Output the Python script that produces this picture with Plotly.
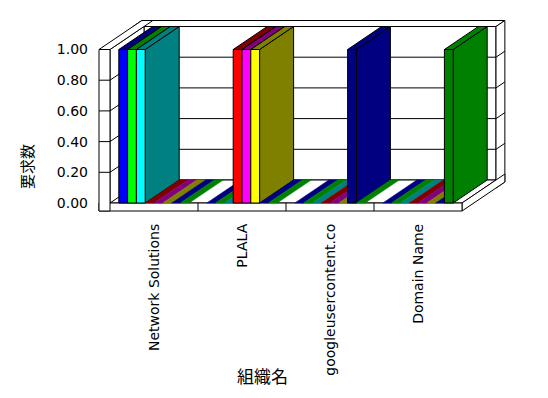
import plotly.graph_objects as go

# ---------------- data ----------------
categories = ["Network Solutions", "PLALA", "googleusercontent.co", "Domain Name"]
series_names = ["S1", "S2", "S3", "S4", "S5", "S6", "S7", "S8"]
s1 = [1, 0, 0, 0]
s2 = [1, 0, 0, 0]
s3 = [1, 0, 0, 0]
s4 = [0, 1, 0, 0]
s5 = [0, 1, 0, 0]
s6 = [0, 1, 0, 0]
s7 = [0, 0, 1, 0]
s8 = [0, 0, 0, 1]
series_values = [s1, s2, s3, s4, s5, s6, s7, s8]
y_ticks = [0.0, 0.2, 0.4, 0.6, 0.8, 1.0]
y_ticktext = ["%.2f" % t for t in y_ticks]

# ---------------- style ----------------
front_colors = ["#0000FF", "#00FF00", "#00FFFF", "#FF0000", "#FF00FF", "#FFFF00", "#000080", "#008000"]
dark_colors = ["#000080", "#008000", "#008080", "#800000", "#800080", "#808000", "#000080", "#008000"]

PX_X = 88.0      # pixels per category
PX_Y = 153.5     # pixels per value unit
DX = 34 / PX_X   # depth offset (x) in data units
DY = 23 / PX_Y   # depth offset (y) in data units
KF = 1 + 6 / 23  # full depth incl. back wall thickness
LW = 11 / PX_X   # left wall thickness
FT = 8 / PX_Y    # floor thickness
GAP = 0.1
BW = 0.1
N = len(categories)
VMAX = y_ticks[-1]

fig = go.Figure()


def P(x, v, k):
    return (x + k * DX, v + k * DY)


def poly(pts, fill, line="black", lw=1):
    xs = [p[0] for p in pts] + [pts[0][0]]
    ys = [p[1] for p in pts] + [pts[0][1]]
    fig.add_trace(go.Scatter(
        x=xs, y=ys, mode="lines", fill="toself", fillcolor=fill,
        line=dict(color=line, width=lw), hoverinfo="skip", showlegend=False))


def seg(a, b, color="black"):
    fig.add_trace(go.Scatter(
        x=[a[0], b[0]], y=[a[1], b[1]], mode="lines",
        line=dict(color=color, width=1), hoverinfo="skip", showlegend=False))


W = "white"
# back wall
poly([P(0, 0, 1), P(N, 0, 1), P(N, VMAX, 1), P(0, VMAX, 1)], W)
poly([P(-LW, VMAX, 1), P(N, VMAX, 1), P(N, VMAX, KF), P(-LW, VMAX, KF)], W)
poly([P(N, -FT, 1), P(N, -FT, KF), P(N, VMAX, KF), P(N, VMAX, 1)], W)
for v in y_ticks[1:-1]:
    seg(P(0, v, 1), P(N, v, 1))
    seg(P(N, v, 1), P(N, v, KF))
# floor
poly([P(-LW, 0, 0), P(N, 0, 0), P(N, 0, 1), P(-LW, 0, 1)], W)
poly([P(N, -FT, 0), P(N, -FT, KF), P(N, 0, KF), P(N, 0, 0)], W)
poly([P(-LW, -FT, 0), P(N, -FT, 0), P(N, 0, 0), P(-LW, 0, 0)], W)
for c in range(1, N):
    seg(P(c, -FT, 0), P(c, 0, 0))
# left wall
poly([P(0, 0, 0), P(0, 0, 1), P(0, VMAX, 1), P(0, VMAX, 0)], W)
poly([P(-LW, VMAX, 0), P(0, VMAX, 0), P(0, VMAX, KF), P(-LW, VMAX, KF)], W)
poly([P(-LW, -FT, 0), P(0, -FT, 0), P(0, VMAX, 0), P(-LW, VMAX, 0)], W)
for v in y_ticks[1:-1]:
    seg(P(-LW, v, 0), P(0, v, 0))
    seg(P(0, v, 0), P(0, v, 1))

# bars, left to right
for c in range(N):
    for s, vals in enumerate(series_values):
        v = vals[c]
        x0 = c + GAP + s * BW
        x1 = x0 + BW
        if v > 0:
            poly([P(x1, 0, 0), P(x1, 0, 1), P(x1, v, 1), P(x1, v, 0)], dark_colors[s])
            poly([P(x0, v, 0), P(x1, v, 0), P(x1, v, 1), P(x0, v, 1)], dark_colors[s])
            poly([P(x0, 0, 0), P(x1, 0, 0), P(x1, v, 0), P(x0, v, 0)], front_colors[s])
        else:
            poly([P(x0, 0, 0), P(x1, 0, 0), P(x1, 0, 1), P(x0, 0, 1)],
                 dark_colors[s], line=dark_colors[s], lw=0.5)

L, R, T, B = 95, 510, 15, 215
X_ORIGIN, Y_ORIGIN = 110, 203
fig.update_layout(
    width=548, height=398,
    margin=dict(l=L, r=548 - R, t=T, b=398 - B),
    paper_bgcolor="white", plot_bgcolor="white",
    showlegend=False,
    font=dict(family="DejaVu Sans", size=14, color="black"),
    xaxis=dict(range=[(L - X_ORIGIN) / PX_X, (R - X_ORIGIN) / PX_X],
               tickvals=[i + 0.5 for i in range(N)], ticktext=categories,
               tickangle=-90, showgrid=False, zeroline=False, showline=False,
               ticks="", ticklabelstandoff=5, fixedrange=True, automargin=False),
    yaxis=dict(range=[(Y_ORIGIN - B) / PX_Y, (Y_ORIGIN - T) / PX_Y],
               tickvals=y_ticks, ticktext=y_ticktext,
               showgrid=False, zeroline=False, showline=False,
               ticks="", ticklabelstandoff=6, fixedrange=True, automargin=False),
    annotations=[
        dict(text="要求数", xref="paper", yref="paper",
             x=(26 - L) / (R - L), y=(B - 167) / (B - T), textangle=-90,
             xanchor="center", yanchor="middle",
             showarrow=False, font=dict(family="Noto Sans CJK JP", size=15)),
        dict(text="組織名", xref="paper", yref="paper",
             x=(262 - L) / (R - L), y=(B - 375) / (B - T),
             xanchor="center", yanchor="middle",
             showarrow=False, font=dict(family="Noto Sans CJK JP", size=17)),
    ],
)

fig.write_html("out.html", config={"displayModeBar": False},
               post_script="document.body.style.margin='0';")
